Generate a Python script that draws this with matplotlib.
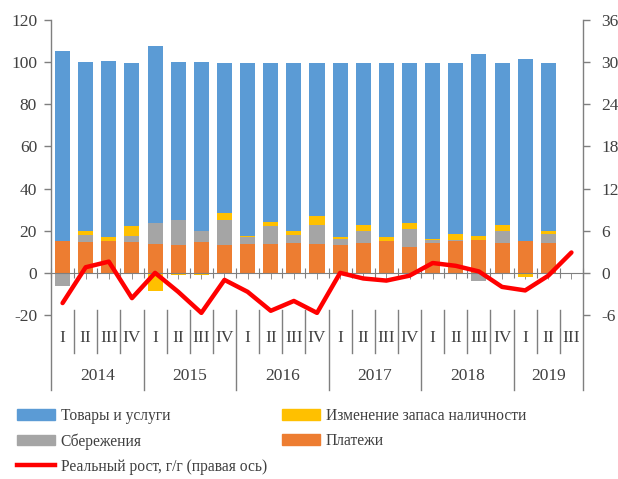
import numpy as np
import matplotlib
matplotlib.use("Agg")
import matplotlib.pyplot as plt
from matplotlib.patches import Patch
from matplotlib.lines import Line2D
import matplotlib.transforms as mtransforms

plt.rcParams['font.family'] = ['Liberation Serif', 'DejaVu Serif']
plt.rcParams['axes.unicode_minus'] = False

years = ['2014', '2015', '2016', '2017', '2018', '2019']
quarters = ['I', 'II', 'III', 'IV'] * 5 + ['I', 'II', 'III']

# shares, % (left axis) - 22 quarters 2014 I .. 2019 II
payments = [15.2, 14.8, 15.2, 14.8,
            13.7, 13.0, 14.8, 13.0,
            13.5, 13.5, 14.1, 13.7,
            13.0, 14.1, 14.9, 12.4,
            14.1, 14.9, 15.4, 14.1,
            14.9, 14.1]
savings = [-6.2, 3.4, -0.7, 2.7,
           9.8, 12.1, 5.0, 12.1,
           3.5, 8.6, 4.1, 9.2,
           3.2, 5.9, 0.0, 8.2,
           1.3, 0.5, -3.8, 5.9,
           0.0, 4.3]
cash = [0.0, 1.8, 1.9, 4.9,
        -8.4, -1.0, -1.0, 3.5,
        0.6, 1.9, 1.8, 3.9,
        0.8, 2.7, 2.1, 2.9,
        0.6, 3.2, 1.9, 2.7,
        -2.1, 1.3]
goods = [90.3, 80.0, 83.3, 77.4,
         84.2, 75.2, 80.5, 71.2,
         82.2, 75.8, 79.8, 73.0,
         82.8, 77.1, 82.8, 76.3,
         83.8, 81.2, 86.5, 77.1,
         86.5, 80.1]
# real growth, % y/y (right axis) - 23 quarters 2014 I .. 2019 III
growth = [-4.3, 0.8, 1.6, -3.6,
          0.0, -2.7, -5.7, -1.0,
          -2.7, -5.4, -4.0, -5.7,
          0.0, -0.8, -1.1, -0.4,
          1.4, 1.0, 0.2, -2.0,
          -2.5, -0.4, 2.9]

labels = ['Товары и услуги', 'Изменение запаса наличности', 'Сбережения',
          'Платежи', 'Реальный рост, г/г (правая ось)']
c_goods, c_cash, c_sav, c_pay, c_line = '#5B9BD5', '#FFC000', '#A5A5A5', '#ED7D31', '#FF0000'
txt = '#404040'
axc = '#7F7F7F'

W, H = 618, 479
fig = plt.figure(figsize=(W / 100, H / 100), dpi=100)
ax = fig.add_axes([51 / W, 1 - 315 / H, (583 - 51) / W, (315 - 20) / H])

n = len(quarters)
xb = np.arange(len(payments))
pos = np.zeros(len(xb))
neg = np.zeros(len(xb))
for vals, col in [(payments, c_pay), (savings, c_sav), (cash, c_cash), (goods, c_goods)]:
    v = np.array(vals, dtype=float)
    bottom = np.where(v >= 0, pos, neg)
    ax.bar(xb, v, bottom=bottom, width=0.65, color=col, zorder=2)
    pos += np.clip(v, 0, None)
    neg += np.clip(v, None, 0)

ax.set_xlim(-0.5, n - 0.5)
ax.set_ylim(-20, 120)
ax.set_yticks(np.arange(-20, 121, 20))
ax.tick_params(axis='y', colors=axc, labelcolor=txt, labelsize=12.5, length=5, width=1, pad=5)

ax.spines['top'].set_visible(False)
ax.spines['right'].set_visible(False)
ax.spines['left'].set_visible(False)
ax.spines['bottom'].set_position(('data', 0))
ax.spines['bottom'].set_color(axc)
ax.spines['bottom'].set_zorder(3)
ax.set_xticks(np.arange(-0.5, n, 1.0))
ax.set_xticks(np.arange(0, n, 1.0), minor=True)
ax.tick_params(axis='x', which='major', direction='inout', length=7, colors=axc, labelbottom=False)
ax.tick_params(axis='x', which='minor', direction='out', length=4, colors=axc, labelbottom=False)

ax2 = ax.twinx()
ax2.plot(np.arange(n), growth, color=c_line, lw=3.2, solid_joinstyle='round',
         solid_capstyle='round', zorder=4)
ax2.set_ylim(-6, 36)
ax2.set_yticks(np.arange(-6, 37, 6))
for s in ['top', 'left', 'bottom', 'right']:
    ax2.spines[s].set_visible(False)
ax2.tick_params(axis='y', colors=axc, labelcolor=txt, labelsize=12.5, length=5, width=1, pad=8)

# category axis (multi-level)
tr = mtransforms.blended_transform_factory(ax.transData, ax.transAxes)
ybot = -(390 - 315) / 295
ytop = 1.0
ax.plot([-0.5, -0.5], [ytop, ybot], transform=tr, color=axc, lw=1, clip_on=False, zorder=5)
ax.plot([n - 0.5, n - 0.5], [ytop, ybot], transform=tr, color=axc, lw=1, clip_on=False, zorder=5)
ysep0 = (315 - 310) / 295
yq_end = -(353 - 315) / 295
for k in range(1, n):
    yend = ybot if k % 4 == 0 else yq_end
    ax.plot([k - 0.5, k - 0.5], [ysep0, yend], transform=tr, color=axc, lw=1,
            clip_on=False, zorder=5)
for i, q in enumerate(quarters):
    ax.text(i, -(338 - 315) / 295, q, transform=tr, ha='center', va='center',
            fontsize=12.5, color=txt)
for j, yr in enumerate(years):
    start = j * 4
    end = min(start + 4, n)
    ax.text((start + end - 1) / 2, -(376 - 315) / 295, yr, transform=tr, ha='center',
            va='center', fontsize=12.5, color=txt)

handles = [Patch(color=c_goods), Patch(color=c_sav),
           Line2D([], [], color=c_line, lw=3.2),
           Patch(color=c_cash), Patch(color=c_pay)]
hl = [labels[0], labels[2], labels[4], labels[1], labels[3]]
fig.legend(handles, hl, ncol=2, loc='upper left', bbox_to_anchor=(17 / W, 1 - 408 / H),
           frameon=False, fontsize=11.2, handlelength=2.45, handleheight=0.65,
           handletextpad=0.35, columnspacing=1.0, labelspacing=0.58,
           borderpad=0, borderaxespad=0, labelcolor=txt)

fig.savefig('out.png', dpi=100)
